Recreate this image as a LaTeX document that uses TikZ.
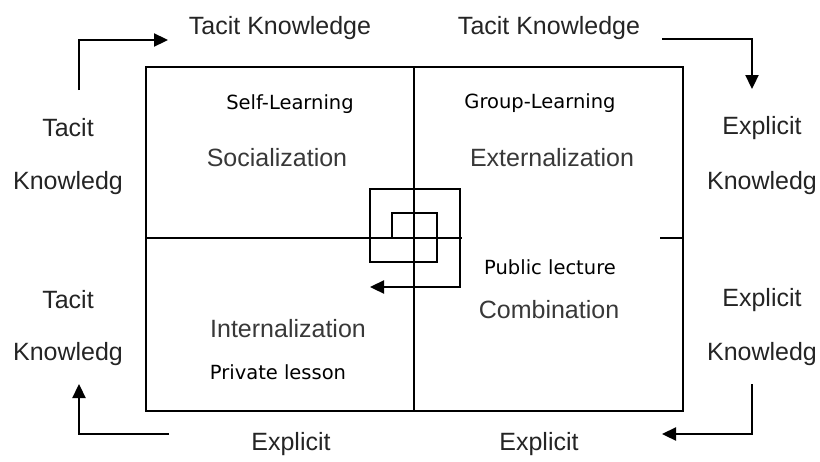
\documentclass[tikz,border=0pt]{standalone}
\usepackage{fontspec}
\setmainfont{Liberation Sans}
\newfontfamily\labelfont{DejaVu Sans}
\usetikzlibrary{positioning, arrows.meta}

\begin{document}
\begin{tikzpicture}[
        x=1pt, y=-1pt,
        thickline/.style={line width=2.3pt, color=black},
        arrow/.style={thickline, -{Triangle[length=14pt, width=13pt]}},
        mode_label/.style={color=black!78, font=\fontsize{25}{28}\selectfont, inner sep=0pt},
        side_label/.style={color=black!86, font=\fontsize{25}{28}\selectfont, inner sep=0pt},
        black_label/.style={color=black, font=\labelfont\fontsize{19.5}{22}\selectfont, inner sep=0pt}
    ]
    \useasboundingbox (0,0) rectangle (820,461);

    % Four quadrants
    \draw[thickline] (146,67) rectangle (683,411);
    \draw[thickline] (414,67) -- (414,411);
    \draw[thickline] (146,238) -- (683,238);
    \fill[white] (462,235) rectangle (660,286);

    % Knowledge spiral in the centre
    \draw[arrow] (392,238) -- (392,213) -- (437,213) -- (437,262) -- (370,262)
        -- (370,189) -- (460,189) -- (460,287) -- (370,287);

    % Quadrant labels
    \node[black_label] (self_learning) at (290,104) {Self-Learning};
    \node[mode_label] (socialization) at (277,158) {Socialization};
    \node[black_label] (group_learning) at (540,103) {Group-Learning};
    \node[mode_label] (externalization) at (552,158) {Externalization};
    \node[black_label] (public_lecture) at (550,267) {Public lecture};
    \node[mode_label] (combination) at (549,310) {Combination};
    \node[mode_label] (internalization) at (288,329) {Internalization};
    \node[black_label] (private_lesson) at (278,372) {Private lesson};

    % Labels around the matrix
    \node[side_label] (tacit_top_left) at (280,28) {Tacit Knowledge};
    \node[side_label] (tacit_top_right) at (549,28) {Tacit Knowledge};
    \node[side_label] (tacit_left_a) at (68,128) {Tacit};
    \node[side_label] (knowledg_left_a) at (68,183) {Knowledg};
    \node[side_label] (tacit_left_b) at (68,300) {Tacit};
    \node[side_label] (knowledg_left_b) at (68,354) {Knowledg};
    \node[side_label] (explicit_right_a) at (762,128) {Explicit};
    \node[side_label] (knowledg_right_a) at (762,183) {Knowledg};
    \node[side_label] (explicit_right_b) at (762,300) {Explicit};
    \node[side_label] (knowledg_right_b) at (762,354) {Knowledg};
    \node[side_label] (explicit_bottom_left) at (291,444) {Explicit};
    \node[side_label] (explicit_bottom_right) at (539,444) {Explicit};

    % Corner arrows
    \coordinate (tl_start) at (79,90);
    \coordinate (tl_end) at (168,40);
    \coordinate (tr_start) at (662,39);
    \coordinate (tr_end) at (752,89);
    \coordinate (br_start) at (752,384);
    \coordinate (br_end) at (662,434);
    \coordinate (bl_start) at (169,434);
    \coordinate (bl_end) at (79,384);
    \draw[arrow] (tl_start) |- (tl_end);
    \draw[arrow] (tr_start) -| (tr_end);
    \draw[arrow] (br_start) |- (br_end);
    \draw[arrow] (bl_start) -| (bl_end);
\end{tikzpicture}
\end{document}
